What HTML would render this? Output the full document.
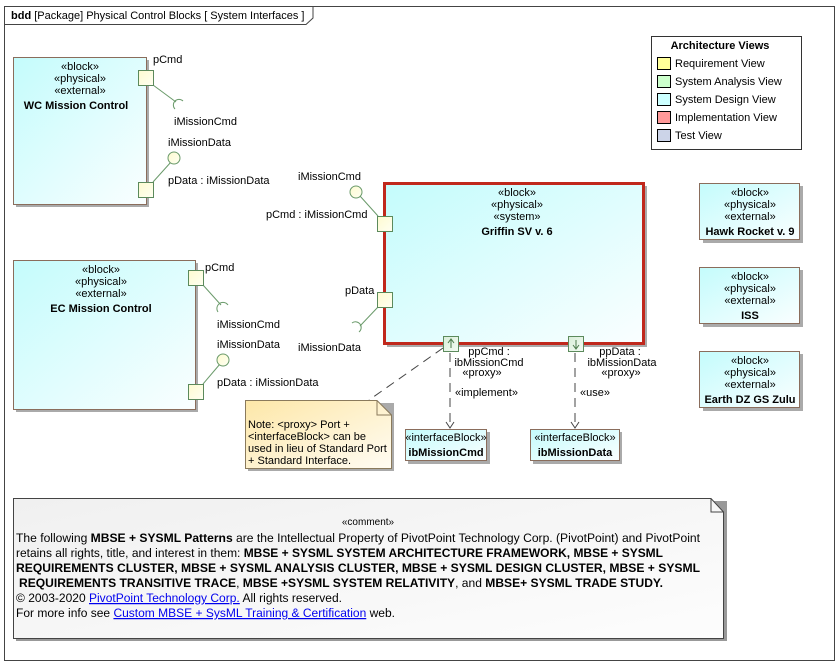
<!DOCTYPE html>
<html><head><meta charset="utf-8"><style>
body{margin:0;background:#fff}
svg{display:block;font-family:"Liberation Sans",Arial,sans-serif}
.t{font-size:11px;fill:#000}
.b{font-size:11px;font-weight:bold}
</style></head><body>
<svg width="840" height="663" viewBox="0 0 840 663" xmlns="http://www.w3.org/2000/svg">
<defs>
<linearGradient id="cy" x1="0" y1="0" x2="1" y2="1"><stop offset="0" stop-color="#c4fcfc"/><stop offset="1" stop-color="#fafeff"/></linearGradient>
<linearGradient id="pt" x1="0" y1="0" x2="1" y2="1"><stop offset="0" stop-color="#fdfbd0"/><stop offset="1" stop-color="#fffff2"/></linearGradient>
<linearGradient id="nt" x1="0" y1="0" x2="1" y2="1"><stop offset="0" stop-color="#fde7a8"/><stop offset="1" stop-color="#fffcf3"/></linearGradient>
<linearGradient id="gr" x1="0" y1="0" x2="1" y2="1"><stop offset="0" stop-color="#f0f0f0"/><stop offset="1" stop-color="#fdfdfd"/></linearGradient>
<linearGradient id="pg" x1="0" y1="0" x2="1" y2="1"><stop offset="0" stop-color="#d8eed8"/><stop offset="1" stop-color="#f3fbf3"/></linearGradient>
</defs>
<rect width="840" height="663" fill="#fff"/>
<rect x="4.5" y="6.5" width="830" height="654" fill="none" stroke="#444"/>
<path d="M4.5 24.5 H306 L313 18 V6.5" fill="none" stroke="#444"/>
<text x="11" y="19" class="t"><tspan font-weight="bold">bdd</tspan> [Package] Physical Control Blocks [ System Interfaces ]</text>

<rect x="16" y="60" width="133" height="147" fill="#aaa"/>
<rect x="13.5" y="57.5" width="133" height="147" fill="url(#cy)" stroke="#8a6d5c"/>
<text x="80" y="70" class="t" text-anchor="middle">«block»</text>
<text x="80" y="82" class="t" text-anchor="middle">«physical»</text>
<text x="80" y="94" class="t" text-anchor="middle">«external»</text>
<text x="76" y="109" class="b" text-anchor="middle">WC Mission Control</text>
<g stroke="#6a9a6a" fill="none">
<line x1="153" y1="85" x2="176" y2="102"/><path d="M175 109 A5 5 0 0 1 183 101"/>
<line x1="153" y1="182" x2="171" y2="162"/><circle cx="174" cy="158" r="6" fill="url(#pt)"/>
</g>
<rect x="138.5" y="70.5" width="15" height="15" fill="url(#pt)" stroke="#5c8a5c"/>
<rect x="138.5" y="182.5" width="15" height="15" fill="url(#pt)" stroke="#5c8a5c"/>
<text x="153" y="63" class="t">pCmd</text>
<text x="174" y="125" class="t">iMissionCmd</text>
<text x="168" y="146" class="t">iMissionData</text>
<text x="168" y="184" class="t">pData : iMissionData</text>

<rect x="16" y="263" width="182" height="149" fill="#aaa"/>
<rect x="13.5" y="260.5" width="182" height="149" fill="url(#cy)" stroke="#8a6d5c"/>
<text x="101" y="273" class="t" text-anchor="middle">«block»</text>
<text x="101" y="285" class="t" text-anchor="middle">«physical»</text>
<text x="101" y="297" class="t" text-anchor="middle">«external»</text>
<text x="101" y="312" class="b" text-anchor="middle">EC Mission Control</text>
<g stroke="#6a9a6a" fill="none">
<line x1="203" y1="285" x2="221" y2="305"/><path d="M218 312 A5 5 0 0 1 228 305"/>
<line x1="203" y1="384" x2="220" y2="364"/><circle cx="223" cy="360" r="6" fill="url(#pt)"/>
</g>
<rect x="188.5" y="270.5" width="15" height="15" fill="url(#pt)" stroke="#5c8a5c"/>
<rect x="188.5" y="384.5" width="15" height="15" fill="url(#pt)" stroke="#5c8a5c"/>
<text x="205" y="271" class="t">pCmd</text>
<text x="217" y="328" class="t">iMissionCmd</text>
<text x="217" y="348" class="t">iMissionData</text>
<text x="217" y="386" class="t">pData : iMissionData</text>

<rect x="387" y="186" width="260" height="161" fill="#aaa"/>
<rect x="384.5" y="183.5" width="259" height="160" fill="url(#cy)" stroke="#c0281c" stroke-width="3"/>
<text x="517" y="196" class="t" text-anchor="middle">«block»</text>
<text x="517" y="208" class="t" text-anchor="middle">«physical»</text>
<text x="517" y="220" class="t" text-anchor="middle">«system»</text>
<text x="517" y="235" class="b" text-anchor="middle">Griffin SV v. 6</text>
<g stroke="#6a9a6a" fill="none">
<line x1="378" y1="216" x2="360" y2="196"/><circle cx="356" cy="192" r="6" fill="url(#pt)"/>
<line x1="378" y1="307" x2="360" y2="326"/><path d="M352 323 A5 5 0 0 1 359 332"/>
</g>
<rect x="377.5" y="216.5" width="15" height="15" fill="url(#pt)" stroke="#5c8a5c"/>
<rect x="377.5" y="292.5" width="15" height="15" fill="url(#pt)" stroke="#5c8a5c"/>
<text x="298" y="180" class="t">iMissionCmd</text>
<text x="266" y="218" class="t">pCmd : iMissionCmd</text>
<text x="345" y="294" class="t">pData</text>
<text x="298" y="351" class="t">iMissionData</text>
<rect x="443.5" y="336.5" width="15" height="15" fill="url(#pg)" stroke="#5c8a5c"/>
<path d="M451 348 V340 M448 343 L451 339 L454 343" stroke="#4a7a4a" fill="none"/>
<rect x="568.5" y="336.5" width="15" height="15" fill="url(#pg)" stroke="#5c8a5c"/>
<path d="M576 340 V348 M573 345 L576 349 L579 345" stroke="#4a7a4a" fill="none"/>
<text x="489" y="355" class="t" text-anchor="middle">ppCmd :</text>
<text x="489" y="366" class="t" text-anchor="middle">ibMissionCmd</text>
<text x="482" y="376" class="t" text-anchor="middle">«proxy»</text>
<text x="620" y="355" class="t" text-anchor="middle">ppData :</text>
<text x="622" y="366" class="t" text-anchor="middle">ibMissionData</text>
<text x="621" y="376" class="t" text-anchor="middle">«proxy»</text>
<g stroke="#444" fill="none" stroke-dasharray="9,6">
<line x1="450" y1="353" x2="450" y2="427"/>
<line x1="575" y1="353" x2="575" y2="427"/>
<line x1="443" y1="348" x2="369" y2="400"/>
</g>
<path d="M446 422 L450 428 L454 422 M571 422 L575 428 L579 422" stroke="#444" fill="none"/>
<text x="455" y="396" class="t">«implement»</text>
<text x="580" y="396" class="t">«use»</text>
<rect x="408" y="432" width="82" height="32" fill="#aaa"/>
<rect x="405.5" y="429.5" width="81" height="31" fill="url(#cy)" stroke="#8a6d5c"/>
<text x="446" y="441" class="t" text-anchor="middle">«interfaceBlock»</text>
<text x="446" y="456" class="b" text-anchor="middle">ibMissionCmd</text>
<rect x="533" y="432" width="89" height="32" fill="#aaa"/>
<rect x="530.5" y="429.5" width="89" height="31" fill="url(#cy)" stroke="#8a6d5c"/>
<text x="575" y="441" class="t" text-anchor="middle">«interfaceBlock»</text>
<text x="575" y="456" class="b" text-anchor="middle">ibMissionData</text>
<path d="M248 403 H394 V471 H248 Z" fill="#aaa"/>
<path d="M245.5 400.5 H377 L391.5 415 V468.5 H245.5 Z" fill="url(#nt)" stroke="#8a7a5c"/>
<path d="M377 400.5 V415 H391.5" fill="none" stroke="#8a7a5c"/>
<text x="248" y="428" class="t">Note: &lt;proxy&gt; Port +</text>
<text x="248" y="440" class="t">&lt;interfaceBlock&gt; can be</text>
<text x="248" y="452" class="t">used in lieu of Standard Port</text>
<text x="248" y="464" class="t">+ Standard Interface.</text>

<rect x="651.5" y="36.5" width="150" height="113" fill="#fff" stroke="#333"/>
<text x="720" y="49" class="b" text-anchor="middle">Architecture Views</text>
<g stroke="#000" stroke-width="1">
<rect x="657.5" y="57.5" width="13" height="12" fill="#ffff99"/>
<rect x="657.5" y="75.5" width="13" height="12" fill="#ccffcc"/>
<rect x="657.5" y="93.5" width="13" height="12" fill="#ccffff"/>
<rect x="657.5" y="111.5" width="13" height="12" fill="#ff9999"/>
<rect x="657.5" y="129.5" width="13" height="12" fill="#ccd4e8"/>
</g>
<text x="675" y="67" class="t">Requirement View</text>
<text x="675" y="85" class="t">System Analysis View</text>
<text x="675" y="103" class="t">System Design View</text>
<text x="675" y="121" class="t">Implementation View</text>
<text x="675" y="139" class="t">Test View</text>

<g>
<rect x="703" y="186" width="100" height="57" fill="#aaa"/>
<rect x="699.5" y="183.5" width="100" height="56" fill="url(#cy)" stroke="#8a6d5c"/>
<text x="750" y="196" class="t" text-anchor="middle">«block»</text>
<text x="750" y="208" class="t" text-anchor="middle">«physical»</text>
<text x="750" y="220" class="t" text-anchor="middle">«external»</text>
<text x="750" y="235" class="b" text-anchor="middle">Hawk Rocket v. 9</text>
<rect x="703" y="270" width="100" height="57" fill="#aaa"/>
<rect x="699.5" y="267.5" width="100" height="56" fill="url(#cy)" stroke="#8a6d5c"/>
<text x="750" y="280" class="t" text-anchor="middle">«block»</text>
<text x="750" y="292" class="t" text-anchor="middle">«physical»</text>
<text x="750" y="304" class="t" text-anchor="middle">«external»</text>
<text x="750" y="319" class="b" text-anchor="middle">ISS</text>
<rect x="703" y="354" width="100" height="57" fill="#aaa"/>
<rect x="699.5" y="351.5" width="100" height="56" fill="url(#cy)" stroke="#8a6d5c"/>
<text x="750" y="364" class="t" text-anchor="middle">«block»</text>
<text x="750" y="376" class="t" text-anchor="middle">«physical»</text>
<text x="750" y="388" class="t" text-anchor="middle">«external»</text>
<text x="750" y="403" class="b" text-anchor="middle">Earth DZ GS Zulu</text>
</g>

<path d="M16 501 H727 V641 H16 Z" fill="#999"/>
<path d="M13.5 498.5 H711 L723.5 512 V638.5 H13.5 Z" fill="url(#gr)" stroke="#444"/>
<path d="M711 498.5 V512 H723.5" fill="none" stroke="#444"/>
<text x="368" y="525" font-size="10" text-anchor="middle">«comment»</text>
<g font-size="12.3">
<text x="16" y="542" textLength="684" lengthAdjust="spacingAndGlyphs">The following <tspan font-weight="bold">MBSE + SYSML Patterns</tspan> are the Intellectual Property of PivotPoint Technology Corp. (PivotPoint) and PivotPoint</text>
<text x="16" y="557" textLength="647" lengthAdjust="spacingAndGlyphs">retains all rights, title, and interest in them: <tspan font-weight="bold">MBSE + SYSML SYSTEM ARCHITECTURE FRAMEWORK, MBSE + SYSML</tspan></text>
<text x="16" y="572" font-weight="bold" textLength="684" lengthAdjust="spacingAndGlyphs">REQUIREMENTS CLUSTER, MBSE + SYSML ANALYSIS CLUSTER, MBSE + SYSML DESIGN CLUSTER, MBSE + SYSML</text>
<text x="19" y="587" textLength="644" lengthAdjust="spacingAndGlyphs"><tspan font-weight="bold">REQUIREMENTS TRANSITIVE TRACE</tspan>, <tspan font-weight="bold">MBSE +SYSML SYSTEM RELATIVITY</tspan>, and <tspan font-weight="bold">MBSE+ SYSML TRADE STUDY.</tspan></text>
<text x="16" y="602" textLength="326" lengthAdjust="spacingAndGlyphs">© 2003-2020 <tspan fill="#0000ee" text-decoration="underline">PivotPoint Technology Corp.</tspan> All rights reserved.</text>
<text x="16" y="617" textLength="379" lengthAdjust="spacingAndGlyphs">For more info see <tspan fill="#0000ee" text-decoration="underline">Custom MBSE + SysML Training &amp; Certification</tspan> web.</text>
</g>
</svg>
</body></html>
